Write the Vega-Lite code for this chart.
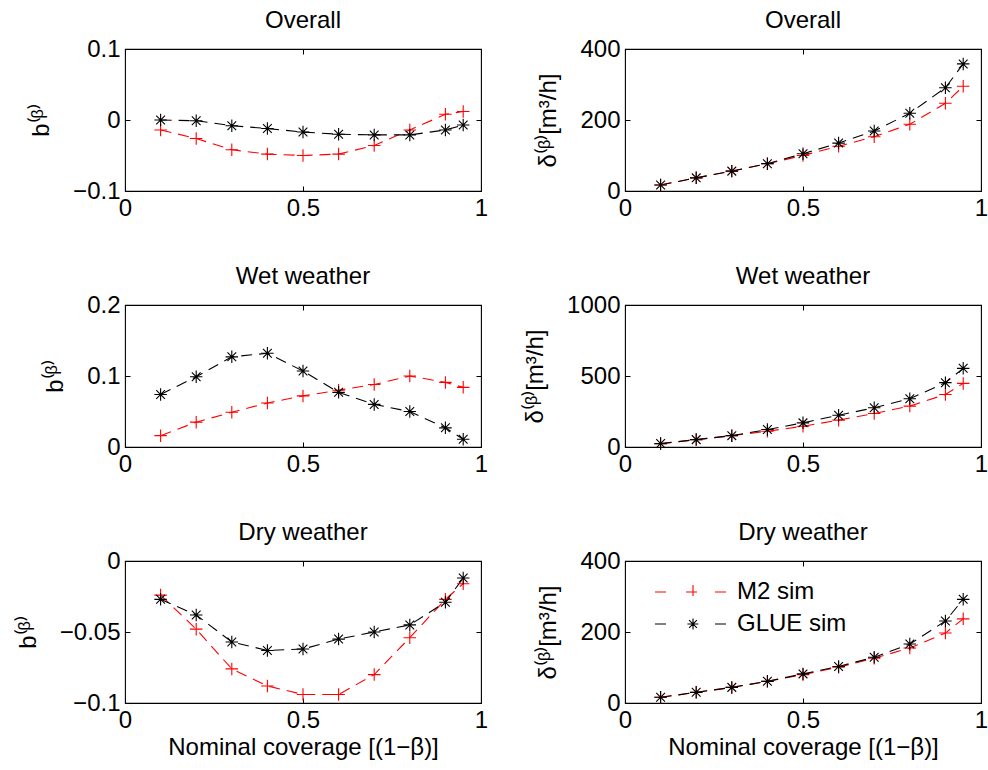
{
  "$schema": "https://vega.github.io/schema/vega-lite/v6.json",
  "padding": {"left": 15, "top": 8, "right": 5, "bottom": 5},
  "background": "white",
  "bounds": "flush",
  "columns": 2,
  "spacing": {"row": 114, "column": 144},
  "config": {
    "font": "Liberation Sans",
    "view": {"stroke": "black", "strokeWidth": 1.1},
    "axis": {"domain": false, "grid": false, "ticks": true, "tickColor": "black", "tickSize": -5, "tickWidth": 1, "labelFont": "Liberation Sans", "labelFontSize": 24, "labelColor": "black", "labelFlush": false, "labelOverlap": false, "labelPadding": 10, "titleFont": "Liberation Sans", "titleFontSize": 24, "titleFontWeight": "normal", "titleColor": "black"},
    "axisX": {"titlePadding": 3},
    "axisY": {"titlePadding": 19},
    "title": {"font": "Liberation Sans", "fontSize": 24, "fontWeight": "normal", "color": "black", "offset": 4},
    "legend": {"labelFont": "Liberation Sans", "labelFontSize": 24, "labelColor": "black"},
    "line": {"strokeDash": [11, 7], "strokeWidth": 1.1},
    "point": {"filled": false, "strokeWidth": 1.1, "size": 156, "opacity": 1}
  },
  "datasets": {
    "d": [
      {"p": "ol", "s": "M2 sim", "x": 0.1, "y": -0.014}, {"p": "ol", "s": "M2 sim", "x": 0.2, "y": -0.026}, {"p": "ol", "s": "M2 sim", "x": 0.3, "y": -0.042}, {"p": "ol", "s": "M2 sim", "x": 0.4, "y": -0.048}, {"p": "ol", "s": "M2 sim", "x": 0.5, "y": -0.05}, {"p": "ol", "s": "M2 sim", "x": 0.6, "y": -0.048}, {"p": "ol", "s": "M2 sim", "x": 0.7, "y": -0.036}, {"p": "ol", "s": "M2 sim", "x": 0.8, "y": -0.014}, {"p": "ol", "s": "M2 sim", "x": 0.9, "y": 0.008}, {"p": "ol", "s": "M2 sim", "x": 0.95, "y": 0.012},
      {"p": "or", "s": "M2 sim", "x": 0.1, "y": 17}, {"p": "or", "s": "M2 sim", "x": 0.2, "y": 37}, {"p": "or", "s": "M2 sim", "x": 0.3, "y": 56}, {"p": "or", "s": "M2 sim", "x": 0.4, "y": 77}, {"p": "or", "s": "M2 sim", "x": 0.5, "y": 100}, {"p": "or", "s": "M2 sim", "x": 0.6, "y": 126}, {"p": "or", "s": "M2 sim", "x": 0.7, "y": 153}, {"p": "or", "s": "M2 sim", "x": 0.8, "y": 188}, {"p": "or", "s": "M2 sim", "x": 0.9, "y": 247}, {"p": "or", "s": "M2 sim", "x": 0.95, "y": 295},
      {"p": "wl", "s": "M2 sim", "x": 0.1, "y": 0.016}, {"p": "wl", "s": "M2 sim", "x": 0.2, "y": 0.035}, {"p": "wl", "s": "M2 sim", "x": 0.3, "y": 0.049}, {"p": "wl", "s": "M2 sim", "x": 0.4, "y": 0.062}, {"p": "wl", "s": "M2 sim", "x": 0.5, "y": 0.072}, {"p": "wl", "s": "M2 sim", "x": 0.6, "y": 0.08}, {"p": "wl", "s": "M2 sim", "x": 0.7, "y": 0.088}, {"p": "wl", "s": "M2 sim", "x": 0.8, "y": 0.1}, {"p": "wl", "s": "M2 sim", "x": 0.9, "y": 0.091}, {"p": "wl", "s": "M2 sim", "x": 0.95, "y": 0.084},
      {"p": "wr", "s": "M2 sim", "x": 0.1, "y": 24}, {"p": "wr", "s": "M2 sim", "x": 0.2, "y": 52}, {"p": "wr", "s": "M2 sim", "x": 0.3, "y": 80}, {"p": "wr", "s": "M2 sim", "x": 0.4, "y": 111}, {"p": "wr", "s": "M2 sim", "x": 0.5, "y": 146}, {"p": "wr", "s": "M2 sim", "x": 0.6, "y": 189}, {"p": "wr", "s": "M2 sim", "x": 0.7, "y": 236}, {"p": "wr", "s": "M2 sim", "x": 0.8, "y": 288}, {"p": "wr", "s": "M2 sim", "x": 0.9, "y": 370}, {"p": "wr", "s": "M2 sim", "x": 0.95, "y": 448},
      {"p": "dl", "s": "M2 sim", "x": 0.1, "y": -0.024}, {"p": "dl", "s": "M2 sim", "x": 0.2, "y": -0.048}, {"p": "dl", "s": "M2 sim", "x": 0.3, "y": -0.076}, {"p": "dl", "s": "M2 sim", "x": 0.4, "y": -0.088}, {"p": "dl", "s": "M2 sim", "x": 0.5, "y": -0.094}, {"p": "dl", "s": "M2 sim", "x": 0.6, "y": -0.094}, {"p": "dl", "s": "M2 sim", "x": 0.7, "y": -0.08}, {"p": "dl", "s": "M2 sim", "x": 0.8, "y": -0.054}, {"p": "dl", "s": "M2 sim", "x": 0.9, "y": -0.027}, {"p": "dl", "s": "M2 sim", "x": 0.95, "y": -0.016},
      {"p": "dr", "s": "M2 sim", "x": 0.1, "y": 16}, {"p": "dr", "s": "M2 sim", "x": 0.2, "y": 30}, {"p": "dr", "s": "M2 sim", "x": 0.3, "y": 44}, {"p": "dr", "s": "M2 sim", "x": 0.4, "y": 61}, {"p": "dr", "s": "M2 sim", "x": 0.5, "y": 80}, {"p": "dr", "s": "M2 sim", "x": 0.6, "y": 101}, {"p": "dr", "s": "M2 sim", "x": 0.7, "y": 126}, {"p": "dr", "s": "M2 sim", "x": 0.8, "y": 155}, {"p": "dr", "s": "M2 sim", "x": 0.9, "y": 197}, {"p": "dr", "s": "M2 sim", "x": 0.95, "y": 237},
      {"p": "ol", "s": "GLUE sim", "x": 0.1, "y": 0}, {"p": "ol", "s": "GLUE sim", "x": 0.2, "y": -0.001}, {"p": "ol", "s": "GLUE sim", "x": 0.3, "y": -0.008}, {"p": "ol", "s": "GLUE sim", "x": 0.4, "y": -0.012}, {"p": "ol", "s": "GLUE sim", "x": 0.5, "y": -0.017}, {"p": "ol", "s": "GLUE sim", "x": 0.6, "y": -0.02}, {"p": "ol", "s": "GLUE sim", "x": 0.7, "y": -0.021}, {"p": "ol", "s": "GLUE sim", "x": 0.8, "y": -0.021}, {"p": "ol", "s": "GLUE sim", "x": 0.9, "y": -0.014}, {"p": "ol", "s": "GLUE sim", "x": 0.95, "y": -0.007},
      {"p": "or", "s": "GLUE sim", "x": 0.1, "y": 17}, {"p": "or", "s": "GLUE sim", "x": 0.2, "y": 37}, {"p": "or", "s": "GLUE sim", "x": 0.3, "y": 56}, {"p": "or", "s": "GLUE sim", "x": 0.4, "y": 77}, {"p": "or", "s": "GLUE sim", "x": 0.5, "y": 105}, {"p": "or", "s": "GLUE sim", "x": 0.6, "y": 135}, {"p": "or", "s": "GLUE sim", "x": 0.7, "y": 169}, {"p": "or", "s": "GLUE sim", "x": 0.8, "y": 219}, {"p": "or", "s": "GLUE sim", "x": 0.9, "y": 291}, {"p": "or", "s": "GLUE sim", "x": 0.95, "y": 358},
      {"p": "wl", "s": "GLUE sim", "x": 0.1, "y": 0.074}, {"p": "wl", "s": "GLUE sim", "x": 0.2, "y": 0.099}, {"p": "wl", "s": "GLUE sim", "x": 0.3, "y": 0.127}, {"p": "wl", "s": "GLUE sim", "x": 0.4, "y": 0.132}, {"p": "wl", "s": "GLUE sim", "x": 0.5, "y": 0.107}, {"p": "wl", "s": "GLUE sim", "x": 0.6, "y": 0.077}, {"p": "wl", "s": "GLUE sim", "x": 0.7, "y": 0.06}, {"p": "wl", "s": "GLUE sim", "x": 0.8, "y": 0.05}, {"p": "wl", "s": "GLUE sim", "x": 0.9, "y": 0.027}, {"p": "wl", "s": "GLUE sim", "x": 0.95, "y": 0.011},
      {"p": "wr", "s": "GLUE sim", "x": 0.1, "y": 24}, {"p": "wr", "s": "GLUE sim", "x": 0.2, "y": 52}, {"p": "wr", "s": "GLUE sim", "x": 0.3, "y": 80}, {"p": "wr", "s": "GLUE sim", "x": 0.4, "y": 123}, {"p": "wr", "s": "GLUE sim", "x": 0.5, "y": 170}, {"p": "wr", "s": "GLUE sim", "x": 0.6, "y": 224}, {"p": "wr", "s": "GLUE sim", "x": 0.7, "y": 276}, {"p": "wr", "s": "GLUE sim", "x": 0.8, "y": 340}, {"p": "wr", "s": "GLUE sim", "x": 0.9, "y": 453}, {"p": "wr", "s": "GLUE sim", "x": 0.95, "y": 554},
      {"p": "dl", "s": "GLUE sim", "x": 0.1, "y": -0.027}, {"p": "dl", "s": "GLUE sim", "x": 0.2, "y": -0.038}, {"p": "dl", "s": "GLUE sim", "x": 0.3, "y": -0.057}, {"p": "dl", "s": "GLUE sim", "x": 0.4, "y": -0.063}, {"p": "dl", "s": "GLUE sim", "x": 0.5, "y": -0.062}, {"p": "dl", "s": "GLUE sim", "x": 0.6, "y": -0.055}, {"p": "dl", "s": "GLUE sim", "x": 0.7, "y": -0.05}, {"p": "dl", "s": "GLUE sim", "x": 0.8, "y": -0.045}, {"p": "dl", "s": "GLUE sim", "x": 0.9, "y": -0.029}, {"p": "dl", "s": "GLUE sim", "x": 0.95, "y": -0.012},
      {"p": "dr", "s": "GLUE sim", "x": 0.1, "y": 16}, {"p": "dr", "s": "GLUE sim", "x": 0.2, "y": 30}, {"p": "dr", "s": "GLUE sim", "x": 0.3, "y": 44}, {"p": "dr", "s": "GLUE sim", "x": 0.4, "y": 61}, {"p": "dr", "s": "GLUE sim", "x": 0.5, "y": 82}, {"p": "dr", "s": "GLUE sim", "x": 0.6, "y": 103}, {"p": "dr", "s": "GLUE sim", "x": 0.7, "y": 129}, {"p": "dr", "s": "GLUE sim", "x": 0.8, "y": 166}, {"p": "dr", "s": "GLUE sim", "x": 0.9, "y": 231}, {"p": "dr", "s": "GLUE sim", "x": 0.95, "y": 292}
    ]
  },
  "data": {"name": "d"},
  "concat": [
    {
      "title": "Overall", "width": 356, "height": 142,
      "transform": [{"filter": "datum.p === 'ol'"}],
      "resolve": {"axis": {"x": "independent", "y": "independent"}},
      "encoding": {"color": {"field": "s", "type": "nominal", "scale": {"domain": ["M2 sim", "GLUE sim"], "range": ["#ff0000", "#000000"]}}},
      "layer": [
        {"mark": "line",
         "encoding": {
           "x": {"field": "x", "type": "quantitative", "scale": {"domain": [0, 1], "nice": false}, "axis": {"values": [0, 0.5, 1], "title": null, "format": "~r"}},
           "y": {"field": "y", "type": "quantitative", "scale": {"domain": [-0.1, 0.1], "nice": false, "zero": false}, "axis": {"values": [-0.1, 0, 0.1], "title": "b⁽ᵝ⁾", "format": "~r"}}}},
        {"mark": {"type": "point", "shape": "M-1,0L1,0M0,-1L0,1"},
         "transform": [{"filter": "datum.s === 'M2 sim'"}],
         "encoding": {
           "x": {"field": "x", "type": "quantitative", "axis": {"orient": "top", "values": [0, 0.5, 1], "labels": false, "title": null}},
           "y": {"field": "y", "type": "quantitative", "axis": {"orient": "right", "values": [-0.1, 0, 0.1], "labels": false, "title": null}}}},
        {"mark": {"type": "point", "shape": "M-1,0L1,0M0,-1L0,1M-0.7,-0.7L0.7,0.7M-0.7,0.7L0.7,-0.7"},
         "transform": [{"filter": "datum.s === 'GLUE sim'"}],
         "encoding": {
           "x": {"field": "x", "type": "quantitative", "axis": null},
           "y": {"field": "y", "type": "quantitative", "axis": null}}}
      ]
    },
    {
      "title": "Overall", "width": 356, "height": 142,
      "transform": [{"filter": "datum.p === 'or'"}],
      "resolve": {"axis": {"x": "independent", "y": "independent"}},
      "encoding": {"color": {"field": "s", "type": "nominal", "scale": {"domain": ["M2 sim", "GLUE sim"], "range": ["#ff0000", "#000000"]}}},
      "layer": [
        {"mark": "line",
         "encoding": {
           "x": {"field": "x", "type": "quantitative", "scale": {"domain": [0, 1], "nice": false}, "axis": {"values": [0, 0.5, 1], "title": null, "format": "~r"}},
           "y": {"field": "y", "type": "quantitative", "scale": {"domain": [0, 400], "nice": false}, "axis": {"values": [0, 200, 400], "title": "δ⁽ᵝ⁾[m³/h]", "format": "~r"}}}},
        {"mark": {"type": "point", "shape": "M-1,0L1,0M0,-1L0,1"},
         "transform": [{"filter": "datum.s === 'M2 sim'"}],
         "encoding": {
           "x": {"field": "x", "type": "quantitative", "axis": {"orient": "top", "values": [0, 0.5, 1], "labels": false, "title": null}},
           "y": {"field": "y", "type": "quantitative", "axis": {"orient": "right", "values": [0, 200, 400], "labels": false, "title": null}}}},
        {"mark": {"type": "point", "shape": "M-1,0L1,0M0,-1L0,1M-0.7,-0.7L0.7,0.7M-0.7,0.7L0.7,-0.7"},
         "transform": [{"filter": "datum.s === 'GLUE sim'"}],
         "encoding": {
           "x": {"field": "x", "type": "quantitative", "axis": null},
           "y": {"field": "y", "type": "quantitative", "axis": null}}}
      ]
    },
    {
      "title": "Wet weather", "width": 356, "height": 142,
      "transform": [{"filter": "datum.p === 'wl'"}],
      "resolve": {"axis": {"x": "independent", "y": "independent"}},
      "encoding": {"color": {"field": "s", "type": "nominal", "scale": {"domain": ["M2 sim", "GLUE sim"], "range": ["#ff0000", "#000000"]}}},
      "layer": [
        {"mark": "line",
         "encoding": {
           "x": {"field": "x", "type": "quantitative", "scale": {"domain": [0, 1], "nice": false}, "axis": {"values": [0, 0.5, 1], "title": null, "format": "~r"}},
           "y": {"field": "y", "type": "quantitative", "scale": {"domain": [0, 0.2], "nice": false}, "axis": {"values": [0, 0.1, 0.2], "title": "b⁽ᵝ⁾", "format": "~r"}}}},
        {"mark": {"type": "point", "shape": "M-1,0L1,0M0,-1L0,1"},
         "transform": [{"filter": "datum.s === 'M2 sim'"}],
         "encoding": {
           "x": {"field": "x", "type": "quantitative", "axis": {"orient": "top", "values": [0, 0.5, 1], "labels": false, "title": null}},
           "y": {"field": "y", "type": "quantitative", "axis": {"orient": "right", "values": [0, 0.1, 0.2], "labels": false, "title": null}}}},
        {"mark": {"type": "point", "shape": "M-1,0L1,0M0,-1L0,1M-0.7,-0.7L0.7,0.7M-0.7,0.7L0.7,-0.7"},
         "transform": [{"filter": "datum.s === 'GLUE sim'"}],
         "encoding": {
           "x": {"field": "x", "type": "quantitative", "axis": null},
           "y": {"field": "y", "type": "quantitative", "axis": null}}}
      ]
    },
    {
      "title": "Wet weather", "width": 356, "height": 142,
      "transform": [{"filter": "datum.p === 'wr'"}],
      "resolve": {"axis": {"x": "independent", "y": "independent"}},
      "encoding": {"color": {"field": "s", "type": "nominal", "scale": {"domain": ["M2 sim", "GLUE sim"], "range": ["#ff0000", "#000000"]}}},
      "layer": [
        {"mark": "line",
         "encoding": {
           "x": {"field": "x", "type": "quantitative", "scale": {"domain": [0, 1], "nice": false}, "axis": {"values": [0, 0.5, 1], "title": null, "format": "~r"}},
           "y": {"field": "y", "type": "quantitative", "scale": {"domain": [0, 1000], "nice": false}, "axis": {"values": [0, 500, 1000], "title": "δ⁽ᵝ⁾[m³/h]", "format": "~r"}}}},
        {"mark": {"type": "point", "shape": "M-1,0L1,0M0,-1L0,1"},
         "transform": [{"filter": "datum.s === 'M2 sim'"}],
         "encoding": {
           "x": {"field": "x", "type": "quantitative", "axis": {"orient": "top", "values": [0, 0.5, 1], "labels": false, "title": null}},
           "y": {"field": "y", "type": "quantitative", "axis": {"orient": "right", "values": [0, 500, 1000], "labels": false, "title": null}}}},
        {"mark": {"type": "point", "shape": "M-1,0L1,0M0,-1L0,1M-0.7,-0.7L0.7,0.7M-0.7,0.7L0.7,-0.7"},
         "transform": [{"filter": "datum.s === 'GLUE sim'"}],
         "encoding": {
           "x": {"field": "x", "type": "quantitative", "axis": null},
           "y": {"field": "y", "type": "quantitative", "axis": null}}}
      ]
    },
    {
      "title": "Dry weather", "width": 356, "height": 142,
      "transform": [{"filter": "datum.p === 'dl'"}],
      "resolve": {"axis": {"x": "independent", "y": "independent"}},
      "encoding": {"color": {"field": "s", "type": "nominal", "scale": {"domain": ["M2 sim", "GLUE sim"], "range": ["#ff0000", "#000000"]}}},
      "layer": [
        {"mark": "line",
         "encoding": {
           "x": {"field": "x", "type": "quantitative", "scale": {"domain": [0, 1], "nice": false}, "axis": {"values": [0, 0.5, 1], "title": "Nominal coverage [(1−β)]", "format": "~r"}},
           "y": {"field": "y", "type": "quantitative", "scale": {"domain": [-0.1, 0], "nice": false, "zero": false}, "axis": {"values": [-0.1, -0.05, 0], "title": "b⁽ᵝ⁾", "format": "~r"}}}},
        {"mark": {"type": "point", "shape": "M-1,0L1,0M0,-1L0,1"},
         "transform": [{"filter": "datum.s === 'M2 sim'"}],
         "encoding": {
           "x": {"field": "x", "type": "quantitative", "axis": {"orient": "top", "values": [0, 0.5, 1], "labels": false, "title": null}},
           "y": {"field": "y", "type": "quantitative", "axis": {"orient": "right", "values": [-0.1, -0.05, 0], "labels": false, "title": null}}}},
        {"mark": {"type": "point", "shape": "M-1,0L1,0M0,-1L0,1M-0.7,-0.7L0.7,0.7M-0.7,0.7L0.7,-0.7"},
         "transform": [{"filter": "datum.s === 'GLUE sim'"}],
         "encoding": {
           "x": {"field": "x", "type": "quantitative", "axis": null},
           "y": {"field": "y", "type": "quantitative", "axis": null}}}
      ]
    },
    {
      "title": "Dry weather", "width": 356, "height": 142,
      "transform": [{"filter": "datum.p === 'dr'"}],
      "resolve": {"axis": {"x": "independent", "y": "independent"}},
      "encoding": {"color": {
        "field": "s", "type": "nominal",
        "scale": {"domain": ["M2 sim", "GLUE sim"], "range": ["#ff0000", "#000000"]},
        "legend": {
          "title": null, "orient": "none", "legendX": 556, "legendY": 531, "padding": 0,
          "symbolSize": 196, "symbolStrokeWidth": 1.1, "symbolOffset": 0, "symbolFillColor": "transparent", "symbolOpacity": 1, "labelOffset": 32, "rowPadding": 8, "labelFontSize": 24,
          "encoding": {
            "symbols": {
              "shape": {"value": {"expr": "datum.value === 'M2 sim' ? 'M-5.43,0L-3.14,0M-1,0L1,0M0,-1L0,1M3.14,0L5.43,0' : 'M-5.43,0L-3.14,0M-0.8,0L0.8,0M0,-0.8L0,0.8M-0.56,-0.56L0.56,0.56M-0.56,0.56L0.56,-0.56M3.14,0L5.43,0'"}}
            }
          }
        }
      }},
      "layer": [
        {"mark": "line",
         "encoding": {
           "x": {"field": "x", "type": "quantitative", "scale": {"domain": [0, 1], "nice": false}, "axis": {"values": [0, 0.5, 1], "title": "Nominal coverage [(1−β)]", "format": "~r"}},
           "y": {"field": "y", "type": "quantitative", "scale": {"domain": [0, 400], "nice": false}, "axis": {"values": [0, 200, 400], "title": "δ⁽ᵝ⁾[m³/h]", "format": "~r"}}}},
        {"mark": {"type": "point", "shape": "M-1,0L1,0M0,-1L0,1"},
         "transform": [{"filter": "datum.s === 'M2 sim'"}],
         "encoding": {
           "x": {"field": "x", "type": "quantitative", "axis": {"orient": "top", "values": [0, 0.5, 1], "labels": false, "title": null}},
           "y": {"field": "y", "type": "quantitative", "axis": {"orient": "right", "values": [0, 200, 400], "labels": false, "title": null}}}},
        {"mark": {"type": "point", "shape": "M-1,0L1,0M0,-1L0,1M-0.7,-0.7L0.7,0.7M-0.7,0.7L0.7,-0.7"},
         "transform": [{"filter": "datum.s === 'GLUE sim'"}],
         "encoding": {
           "x": {"field": "x", "type": "quantitative", "axis": null},
           "y": {"field": "y", "type": "quantitative", "axis": null}}}
      ]
    }
  ]
}
